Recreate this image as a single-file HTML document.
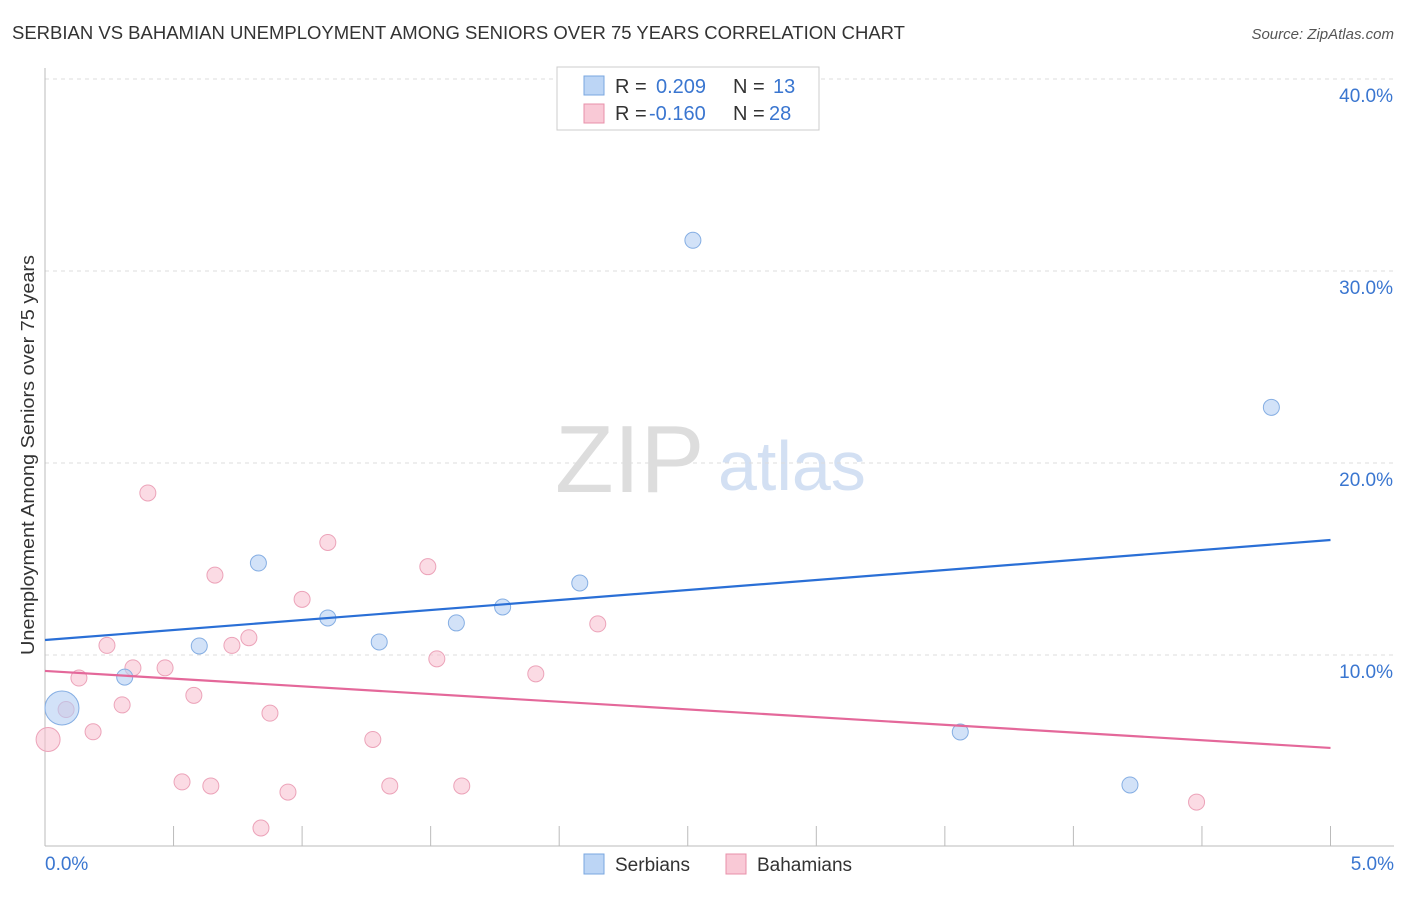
<!DOCTYPE html>
<html><head><meta charset="utf-8"><style>
body{margin:0;background:#fff;font-family:"Liberation Sans",sans-serif;}
svg text{font-family:"Liberation Sans",sans-serif;}
</style></head><body>
<svg id="c" width="1406" height="892">
<text x="12" y="39" font-size="18" textLength="893" lengthAdjust="spacingAndGlyphs" fill="#333">SERBIAN VS BAHAMIAN UNEMPLOYMENT AMONG SENIORS OVER 75 YEARS CORRELATION CHART</text>
<text x="1394" y="39" font-size="15" fill="#555" font-style="italic" text-anchor="end">Source: ZipAtlas.com</text>
<text x="34" y="455" font-size="18" textLength="400" lengthAdjust="spacingAndGlyphs" fill="#333" text-anchor="middle" transform="rotate(-90 34 455)">Unemployment Among Seniors over 75 years</text>
<text x="555" y="492" font-size="96" fill="#ddd" font-family="Liberation Serif">ZIP</text>
<text x="718" y="490" font-size="70" fill="#d3e0f3">atlas</text>
<g id="grid"></g><g id="axes"></g><g id="pts"></g><g id="lines"></g>
<g>
<rect x="557" y="67" width="262" height="63" fill="#fff" stroke="#ccc"/>
<rect x="584" y="76" width="20" height="19" fill="#bcd5f5" stroke="#7aa7e0"/>
<text x="615" y="93" font-size="20" fill="#333">R = </text><text x="656" y="93" font-size="20" fill="#3a76d0">0.209</text>
<text x="733" y="93" font-size="20" fill="#333">N = </text><text x="773" y="93" font-size="20" fill="#3a76d0">13</text>
<rect x="584" y="104" width="20" height="19" fill="#f9c9d6" stroke="#e890aa"/>
<text x="615" y="120" font-size="20" fill="#333">R = </text><text x="649" y="120" font-size="20" fill="#3a76d0">-0.160</text>
<text x="733" y="120" font-size="20" fill="#333">N = </text><text x="769" y="120" font-size="20" fill="#3a76d0">28</text>
</g>
<g>
<rect x="584" y="854" width="20" height="20" fill="#bcd5f5" stroke="#7aa7e0"/>
<text x="615" y="871" font-size="19" fill="#333">Serbians</text>
<rect x="726" y="854" width="20" height="20" fill="#f9c9d6" stroke="#e890aa"/>
<text x="757" y="871" font-size="19" fill="#333">Bahamians</text>
</g>
</svg>
<script>
const serbX=[0.066,0.31,0.60,0.83,1.10,1.30,1.60,1.78,2.08,2.52,3.56,4.22,4.77];
const serbY=[7.24,8.85,10.47,14.79,11.93,10.68,11.67,12.5,13.75,31.6,5.99,3.23,22.9];
const serbR=[17,8,8,8,8,8,8,8,8,8,8,8,8];
const bahX=[0.012,0.082,0.132,0.187,0.241,0.3,0.342,0.4,0.467,0.533,0.579,0.645,0.661,0.727,0.793,0.84,0.875,0.945,1.0,1.1,1.275,1.341,1.489,1.524,1.621,1.909,2.15,4.479];
const bahY=[5.6,7.16,8.8,6.0,10.5,7.4,9.33,18.44,9.33,3.39,7.9,3.18,14.16,10.5,10.9,0.99,6.97,2.86,12.9,15.86,5.6,3.18,14.6,9.8,3.18,9.02,11.62,2.34];
const bahR=[12,8,8,8,8,8,8,8,8,8,8,8,8,8,8,8,8,8,8,8,8,8,8,8,8,8,8,8];
const trendX=[0,5];
const serbTrend=[10.78,15.99];
const bahTrend=[9.17,5.16];
const yTicks=[10,20,30,40];
const yTickLabels=["10.0%","20.0%","30.0%","40.0%"];
const xTicks=[0.5,1,1.5,2,2.5,3,3.5,4,4.5,5];
const xLabels=["0.0%","5.0%"];
const sx=v=>45+v*257.1, sy=v=>847-v*19.2;
const NS="http://www.w3.org/2000/svg";
function mk(p,t,a){const e=document.createElementNS(NS,t);for(const k in a)e.setAttribute(k,a[k]);document.getElementById(p).appendChild(e);return e;}
yTicks.forEach((v,i)=>{
 const l=mk('grid','line',{x1:45,x2:1394,y1:sy(v),y2:sy(v),stroke:'#ddd','stroke-dasharray':'4,4'});
 
 
 const t=mk('grid','text',{x:1393,y:sy(v)+23,'font-size':19,fill:'#3a76d0','text-anchor':'end'});t.textContent=yTickLabels[i];
 
 
});
const ax=mk('axes','line',{x1:45,x2:1394,y1:846,y2:846,stroke:'#bbb'});


const ay=mk('axes','line',{x1:45,x2:45,y1:68,y2:846,stroke:'#bbb'});


xTicks.forEach(v=>{const l=mk('axes','line',{x1:sx(v),x2:sx(v),y1:826,y2:846,stroke:'#bbb'});
 
 });
[[0,'start',45],[5,'end',1394]].forEach((d,i)=>{const t=mk('axes','text',{x:d[2],y:870,'font-size':19,fill:'#3a76d0','text-anchor':d[1]});t.textContent=xLabels[i];
 
 });
bahX.forEach((x,i)=>{const c=mk('pts','circle',{cx:sx(x),cy:sy(bahY[i]),r:bahR[i],fill:'rgba(248,190,206,0.55)',stroke:'#eca3b9'});
 
 });
serbX.forEach((x,i)=>{const c=mk('pts','circle',{cx:sx(x),cy:sy(serbY[i]),r:serbR[i],fill:'rgba(180,206,243,0.6)',stroke:'#85aee3'});
 
 });
const l1=mk('lines','line',{x1:sx(trendX[0]),x2:sx(trendX[1]),y1:sy(serbTrend[0]),y2:sy(serbTrend[1]),stroke:'#2a6fd6','stroke-width':2.2});


const l2=mk('lines','line',{x1:sx(trendX[0]),x2:sx(trendX[1]),y1:sy(bahTrend[0]),y2:sy(bahTrend[1]),stroke:'#e4689a','stroke-width':2.2});


</script>
</body></html>
